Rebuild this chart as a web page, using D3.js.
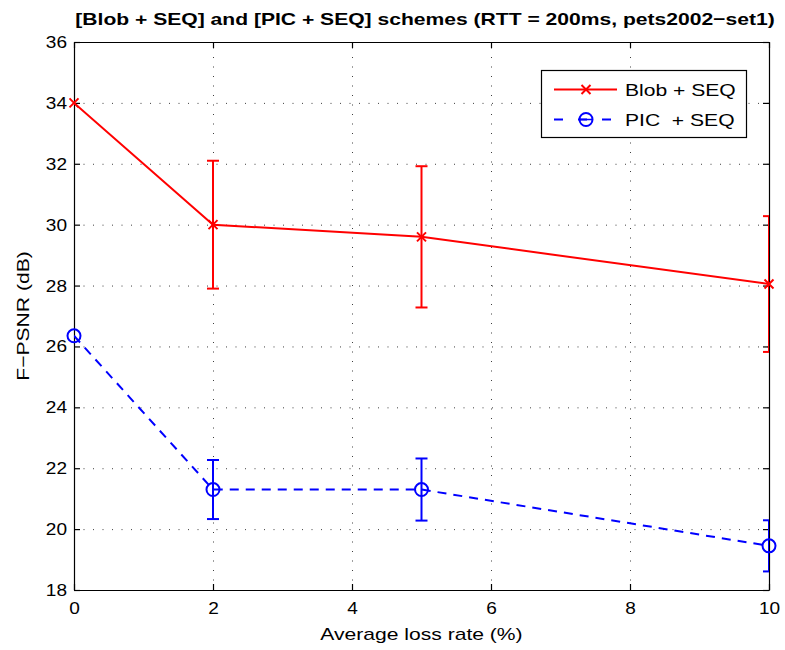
<!DOCTYPE html>
<html><head><meta charset="utf-8">
<script src="https://cdn.jsdelivr.net/npm/d3@7"></script>
<style>
body{margin:0;background:#fff;}
text{font-family:"Liberation Sans",Arial,Helvetica,sans-serif;}
</style></head>
<body>
<svg id="chart" width="785" height="650"></svg>
<script>
const lossRates = [0, 2, 5, 10];
const blobSeq = [34.0, 30.0, 29.6, 28.05];
const blobErr = [0, 2.1, 2.32, 2.23];
const picSeq = [26.35, 21.3, 21.3, 19.45];
const picErr = [0, 0.97, 1.02, 0.84];
const xTicks = [0, 2, 4, 6, 8, 10];
const yTicks = [18, 20, 22, 24, 26, 28, 30, 32, 34, 36];
const seriesNames = ["Blob + SEQ", "PIC\u00a0 + SEQ"];
const titleText = "[Blob + SEQ] and [PIC + SEQ] schemes (RTT = 200ms, pets2002\u2212set1)";
const xLabel = "Average loss rate (%)";
const yLabel = "F\u2212PSNR (dB)";

const svg = d3.select("#chart");
const L = 74, R = 769, T = 42, B = 590;
const x = d3.scaleLinear().domain([0, 10]).range([L, R]);
const y = d3.scaleLinear().domain([18, 36]).range([B, T]);
const fs = 17, K = 1.24, KT = 1.12;

function stretch(sel, k){
  sel.each(function(){
    const n = this.getComputedTextLength();
    d3.select(this).attr("textLength", n*k).attr("lengthAdjust","spacingAndGlyphs");
  });
}

svg.append("defs").append("clipPath").attr("id","clip")
  .append("rect").attr("x",L).attr("y",T).attr("width",R-L).attr("height",B-T);

// grid
const grid = svg.append("g").attr("stroke","#000").attr("stroke-width",1).attr("stroke-dasharray","1,8.5").attr("opacity",0.75);
xTicks.slice(1,-1).forEach(t=>{
  grid.append("line").attr("x1",x(t)+0.5).attr("x2",x(t)+0.5).attr("y1",B).attr("y2",T);
});
yTicks.slice(1,-1).forEach(t=>{
  grid.append("line").attr("x1",L).attr("x2",R).attr("y1",y(t)+0.5).attr("y2",y(t)+0.5);
});

// axes
const axB = svg.append("g").attr("transform",`translate(0,${B})`)
  .call(d3.axisBottom(x).tickValues(xTicks).tickSizeInner(-6).tickSizeOuter(0).tickPadding(12));
const axT = svg.append("g").attr("transform",`translate(0,${T})`)
  .call(d3.axisTop(x).tickValues(xTicks).tickSizeInner(-6).tickSizeOuter(0).tickFormat(""));
const axL = svg.append("g").attr("transform",`translate(${L},0)`)
  .call(d3.axisLeft(y).tickValues(yTicks).tickSizeInner(-6).tickSizeOuter(0).tickPadding(7));
const axR = svg.append("g").attr("transform",`translate(${R},0)`)
  .call(d3.axisRight(y).tickValues(yTicks).tickSizeInner(-6).tickSizeOuter(0).tickFormat(""));
[axB,axT,axL,axR].forEach(a=>{
  a.selectAll("text").attr("font-size",fs).attr("fill","#000").attr("font-family","Liberation Sans, Arial, sans-serif");
  a.selectAll("path,line").attr("stroke","#000").attr("stroke-width",1.2);
});
stretch(axB.selectAll("text"), KT);
stretch(axL.selectAll("text"), KT);

// series
function drawSeries(vals, errs, color, dash, marker){
  const g = svg.append("g");
  const cl = g.append("g").attr("clip-path","url(#clip)");
  const line = d3.line().x((d,i)=>x(lossRates[i])).y(d=>y(d));
  cl.append("path").datum(vals).attr("d",line).attr("fill","none")
    .attr("stroke",color).attr("stroke-width",2).attr("stroke-dasharray",dash);
  vals.forEach((v,i)=>{
    if(!errs[i]) return;
    const cx = x(lossRates[i]), y1 = y(v+errs[i]), y2 = y(v-errs[i]);
    cl.append("line").attr("x1",cx).attr("x2",cx).attr("y1",y1).attr("y2",y2).attr("stroke",color).attr("stroke-width",2);
    [y1,y2].forEach(yy=>cl.append("line").attr("x1",cx-6).attr("x2",cx+6).attr("y1",yy).attr("y2",yy).attr("stroke",color).attr("stroke-width",2));
  });
  vals.forEach((v,i)=>marker(g, x(lossRates[i]), y(v), color));
}
function xMarker(g,cx,cy,c){
  const s=4.5;
  g.append("path").attr("d",`M${cx-s},${cy-s}L${cx+s},${cy+s}M${cx-s},${cy+s}L${cx+s},${cy-s}`)
    .attr("stroke",c).attr("stroke-width",2).attr("fill","none");
}
function oMarker(g,cx,cy,c){
  g.append("circle").attr("cx",cx).attr("cy",cy).attr("r",6.5).attr("fill","none").attr("stroke",c).attr("stroke-width",2);
}
drawSeries(blobSeq, blobErr, "#ff0000", null, xMarker);
drawSeries(picSeq, picErr, "#0000ff", "9,7", oMarker);

// legend
const lg = svg.append("g");
lg.append("rect").attr("x",541.5).attr("y",70.5).attr("width",205).attr("height",67)
  .attr("fill","#fff").attr("stroke","#000").attr("stroke-width",1.2);
const rows = [
  {name:seriesNames[0], color:"#ff0000", dash:null, mk:xMarker, y:89.5},
  {name:seriesNames[1], color:"#0000ff", dash:"9,15", mk:oMarker, y:119.5}
];
rows.forEach(r=>{
  lg.append("line").attr("x1",554).attr("x2",617).attr("y1",r.y).attr("y2",r.y)
    .attr("stroke",r.color).attr("stroke-width",2).attr("stroke-dasharray",r.dash);
  r.mk(lg,586,r.y,r.color);
  if(r.mk===oMarker) lg.append("line").attr("x1",579.5).attr("x2",592.5).attr("y1",r.y).attr("y2",r.y).attr("stroke",r.color).attr("stroke-width",1.5);
  const t = lg.append("text").attr("x",625).attr("y",r.y).attr("dy","0.36em").attr("font-size",fs).text(r.name);
  stretch(t, K);
});

// titles
const tt = svg.append("text").attr("x",425).attr("y",25).attr("text-anchor","middle")
  .attr("font-size",fs).attr("font-weight","bold").text(titleText);
stretch(tt, K);
const xl = svg.append("text").attr("x",(L+R)/2).attr("y",640).attr("text-anchor","middle")
  .attr("font-size",fs).text(xLabel);
stretch(xl, K);
const yl = svg.append("text").attr("transform",`translate(29,${(T+B)/2}) rotate(-90)`).attr("text-anchor","middle")
  .attr("font-size",fs).text(yLabel);
stretch(yl, K);
</script>
</body></html>
